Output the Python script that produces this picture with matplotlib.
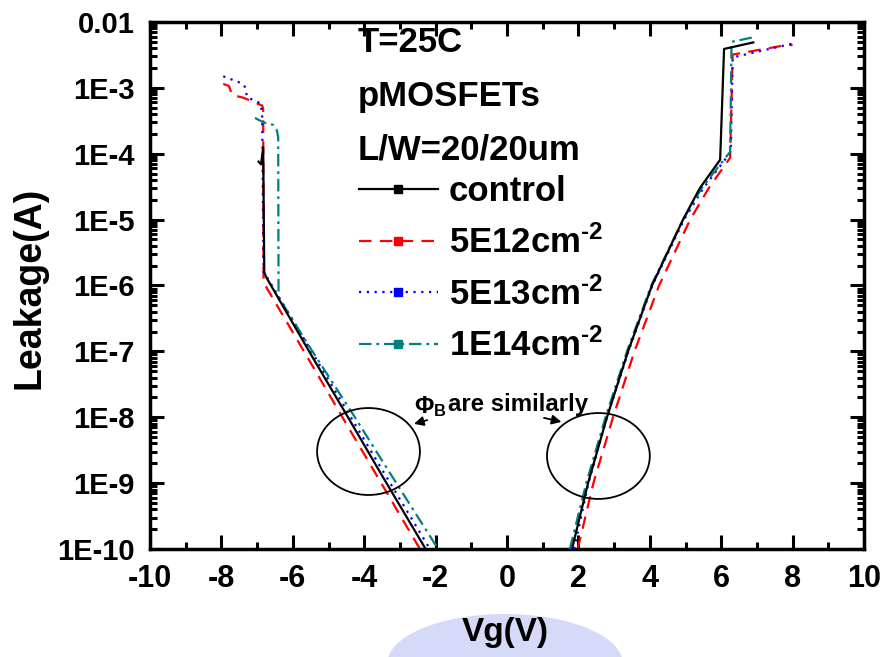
import numpy as np
import matplotlib
matplotlib.use('Agg')
import matplotlib.pyplot as plt
from matplotlib.lines import Line2D
from matplotlib.patches import Ellipse
from matplotlib.ticker import FixedLocator, FixedFormatter, LogLocator, MultipleLocator, NullFormatter

# ── Data: gate leakage vs gate voltage, pMOSFET L/W=20/20um at 25C ─────────────
# negative-bias branch
ctrl_neg_vg = [-6.96, -6.89, -6.83, -6.80, -6.75, -5.5, -4.5, -3.5, -2.28]
ctrl_neg_i  = [7.6e-5, 6.9e-5, 1.25e-4, 1.6e-6, 1.35e-6, 9.1e-8, 1.1e-8, 1.3e-9, 1e-10]

d12_neg_vg = [-7.95, -7.79, -7.70, -7.39, -6.86, -6.83, -6.82, -6.77, -5.5, -4.5, -3.5, -2.44]
d12_neg_i  = [1.15e-3, 1.07e-3, 7.8e-4, 7.1e-4, 5.4e-4, 4.8e-4, 1.1e-6, 1.0e-6, 6.7e-8, 7.9e-9, 9.5e-10, 1e-10]

d13_neg_vg = [-7.95, -7.39, -7.34, -7.28, -6.92, -6.86, -6.82, -6.73, -5.5, -4.5, -3.5, -2.16]
d13_neg_i  = [1.5e-3, 1.15e-3, 1.03e-3, 7.2e-4, 5.9e-4, 4.3e-4, 1.5e-6, 1.35e-6, 1.05e-7, 1.3e-8, 1.6e-9, 1e-10]

d14_neg_vg = [-7.06, -6.83, -6.55, -6.45, -6.41, -6.40, -6.39, -5.5, -4.31, -3.5, -1.93]
d14_neg_i  = [3.5e-4, 3.0e-4, 2.75e-4, 2.3e-4, 1.8e-4, 7e-7, 6.5e-7, 1.1e-7, 1.1e-8, 2.2e-9, 1e-10]

# positive-bias branch
ctrl_pos_vg = [1.82, 2.27, 2.80, 3.39, 4.06, 4.93, 5.40, 5.97, 6.08, 6.90]
ctrl_pos_i  = [1e-10, 1e-9, 1e-8, 1e-7, 1e-6, 1e-5, 3.0e-5, 8.1e-5, 3.9e-3, 4.9e-3]

d12_pos_vg = [1.98, 2.42, 2.97, 3.57, 4.26, 5.13, 5.65, 6.25, 6.32, 7.65, 8.00]
d12_pos_i  = [1e-10, 1e-9, 1e-8, 1e-7, 1e-6, 1e-5, 3.0e-5, 8.7e-5, 3.2e-3, 4.3e-3, 4.5e-3]

d13_pos_vg = [1.88, 2.28, 2.80, 3.40, 4.07, 4.96, 5.50, 6.27, 6.32, 8.00]
d13_pos_i  = [1e-10, 1e-9, 1e-8, 1e-7, 1e-6, 1e-5, 3.0e-5, 1.07e-4, 2.9e-3, 4.7e-3]

d14_pos_vg = [1.76, 2.22, 2.76, 3.36, 4.04, 4.93, 5.45, 6.25, 6.29, 6.92]
d14_pos_i  = [1e-10, 1e-9, 1e-8, 1e-7, 1e-6, 1e-5, 3.0e-5, 1.07e-4, 5.0e-3, 5.9e-3]

SERIES_LABELS = ['control', r'5E12cm$^{\text{-2}}$', r'5E13cm$^{\text{-2}}$', r'1E14cm$^{\text{-2}}$']
Y_TICKS       = [1e-10, 1e-9, 1e-8, 1e-7, 1e-6, 1e-5, 1e-4, 1e-3, 1e-2]
Y_TICK_LABELS = ['1E-10', '1E-9', '1E-8', '1E-7', '1E-6', '1E-5', '1E-4', '1E-3', '0.01']
CONDITIONS    = ['T=25C', 'pMOSFETs', 'L/W=20/20um']

# ── Style ─────────────────────────────────────────────────────────────────────
plt.rcParams['font.family'] = ['Liberation Sans', 'DejaVu Sans']
plt.rcParams['font.weight'] = 'bold'
plt.rcParams['mathtext.fontset'] = 'custom'
plt.rcParams['mathtext.rm'] = 'Liberation Sans:bold'
plt.rcParams['mathtext.it'] = 'Liberation Sans:bold'
plt.rcParams['mathtext.bf'] = 'Liberation Sans:bold'
plt.rcParams['axes.unicode_minus'] = False
plt.rcParams['lines.scale_dashes'] = False

STYLES = [
    dict(color='black',   linestyle='-'),
    dict(color='#ff0000', linestyle=(0, (9, 6))),
    dict(color='#0000ff', linestyle=(0, (1.6, 4))),
    dict(color='#008080', linestyle=(0, (9, 3.5, 2, 3.5))),
]


def main():
    fig = plt.figure(figsize=(8.81, 6.57), dpi=100)

    # faint emblem behind the x-axis title
    fig.patches.append(Ellipse((505 / 881, 1 - 664 / 657), 236 / 881, 100 / 657,
                               transform=fig.transFigure, color='#d6daf8', lw=0,
                               zorder=0))

    ax = fig.add_axes([0.1703, 0.1644, 0.8104, 0.8021])

    branches = [
        (ctrl_neg_vg, ctrl_neg_i, ctrl_pos_vg, ctrl_pos_i),
        (d12_neg_vg, d12_neg_i, d12_pos_vg, d12_pos_i),
        (d13_neg_vg, d13_neg_i, d13_pos_vg, d13_pos_i),
        (d14_neg_vg, d14_neg_i, d14_pos_vg, d14_pos_i),
    ]
    # draw back to front so the control curve ends up on top
    for (nv, ni, pv, pi), st, z in zip(branches, STYLES, [5, 2, 3, 4]):
        ax.plot(nv, ni, lw=1.6, zorder=z, **st)
        ax.plot(pv, pi, lw=1.6, zorder=z, **st)

    ax.set_yscale('log')
    ax.set_xlim(-10, 10)
    ax.set_ylim(1e-10, 1e-2)

    ax.xaxis.set_major_locator(MultipleLocator(2))
    ax.xaxis.set_minor_locator(MultipleLocator(1))
    ax.yaxis.set_major_locator(FixedLocator(Y_TICKS))
    ax.yaxis.set_major_formatter(FixedFormatter(Y_TICK_LABELS))
    ax.yaxis.set_minor_locator(LogLocator(base=10, subs=np.arange(2, 10)))
    ax.yaxis.set_minor_formatter(NullFormatter())

    ax.tick_params(which='both', direction='in', top=True, right=True, width=2.2)
    ax.tick_params(which='major', length=10)
    ax.tick_params(which='minor', length=5)
    ax.tick_params(axis='y', which='major', pad=11, labelsize=21)
    ax.tick_params(axis='x', which='major', pad=11, labelsize=22)
    for lab in ax.get_xticklabels() + ax.get_yticklabels():
        lab.set_fontweight('bold')
    for sp in ax.spines.values():
        sp.set_linewidth(2.5)

    fig.text(505 / 881, 1 - 633 / 657, 'Vg(V)', fontsize=24,
             fontweight='bold', ha='center', va='center')
    fig.text(30 / 881, 1 - 288 / 657, 'Leakage(A)', fontsize=27,
             fontweight='bold', rotation=90, ha='center', va='center')

    # measurement conditions
    for txt, y in zip(CONDITIONS, [0.962, 0.859, 0.758]):
        ax.text(0.291, y, txt, transform=ax.transAxes, fontsize=25,
                fontweight='bold', ha='left', va='center')

    handles = [Line2D([], [], lw=1.6, marker='s', markersize=6, **st) for st in STYLES]
    ax.legend(handles, SERIES_LABELS, loc='upper left', bbox_to_anchor=(0.292, 0.709),
              frameon=False, fontsize=25, handlelength=2.3, handletextpad=0.3,
              labelspacing=0.49, borderpad=0, borderaxespad=0, numpoints=1)

    # barrier height call-out
    ax.add_patch(Ellipse((0.306, 0.185), 0.144, 0.165, transform=ax.transAxes,
                         fill=False, lw=1.3, color='black', zorder=6))
    ax.add_patch(Ellipse((0.628, 0.1765), 0.144, 0.163, transform=ax.transAxes,
                         fill=False, lw=1.3, color='black', zorder=6))
    ax.text(0.416, 0.270, r'$\Phi_{B}$', transform=ax.transAxes,
            fontsize=17, fontweight='bold', ha='right', va='center')
    ax.text(0.417, 0.275, 'are similarly', transform=ax.transAxes,
            fontsize=17.3, fontweight='bold', ha='left', va='center')
    arrow = dict(arrowstyle='-|>', lw=1.3, color='black', mutation_scale=14)
    ax.annotate('', xy=(0.366, 0.236), xytext=(0.392, 0.246),
                xycoords='axes fraction', arrowprops=arrow)
    ax.annotate('', xy=(0.580, 0.240), xytext=(0.548, 0.250),
                xycoords='axes fraction', arrowprops=arrow)

    fig.savefig('out.png', dpi=100)
    plt.close(fig)


if __name__ == '__main__':
    main()
